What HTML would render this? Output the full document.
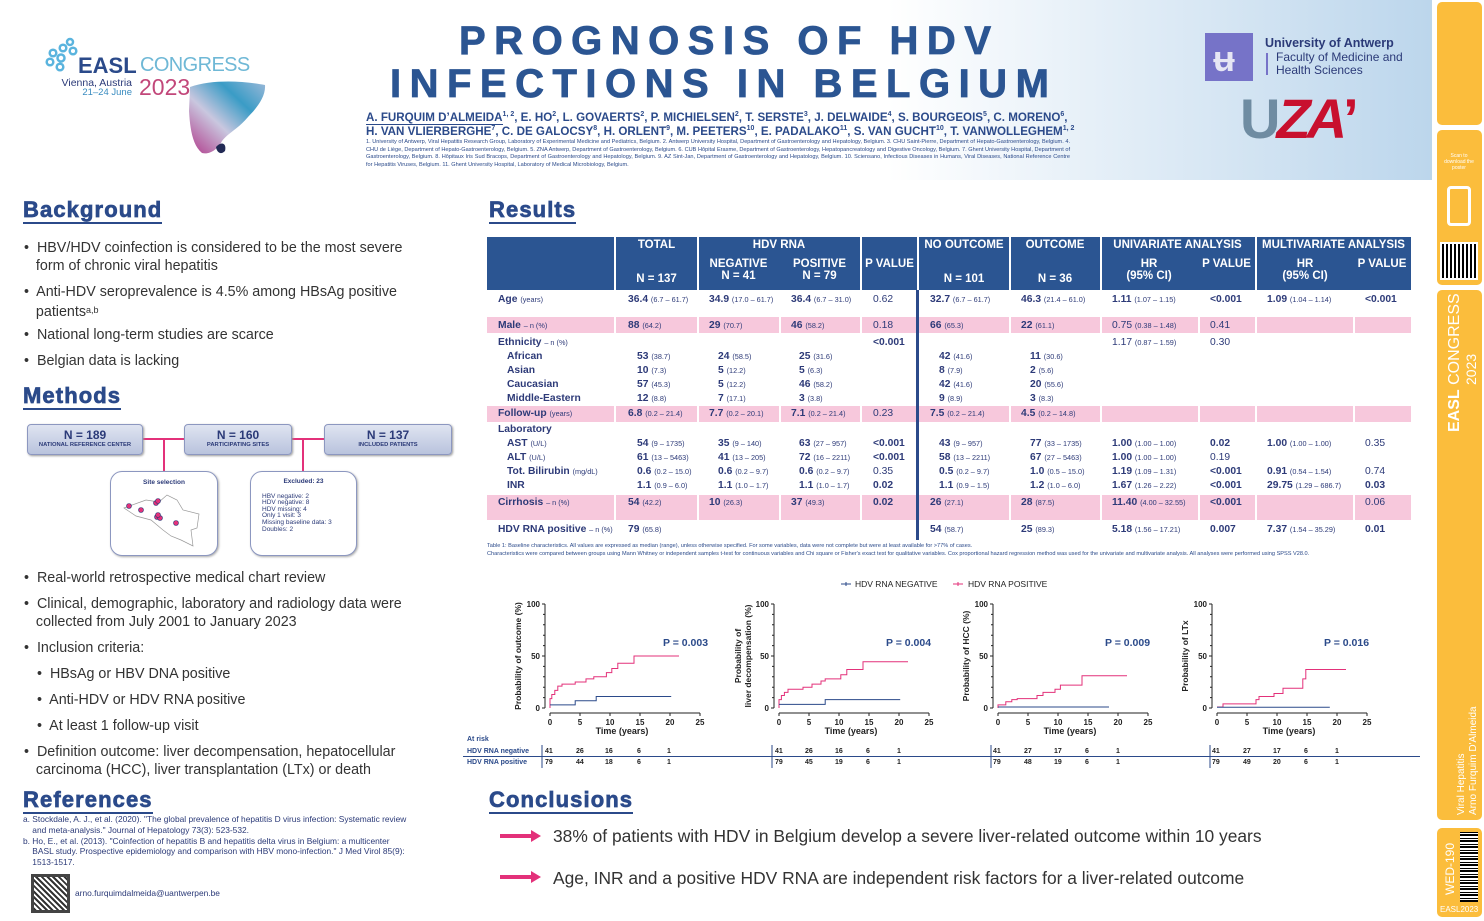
<!DOCTYPE html>
<html><head><meta charset="utf-8">
<style>
*{margin:0;padding:0;box-sizing:border-box}
body{width:1484px;height:921px;position:relative;overflow:hidden;background:#fff;font-family:"Liberation Sans",Arial,sans-serif}
.a{position:absolute;white-space:nowrap}
.hdr{position:absolute;left:0;top:0;width:1432px;height:180px;background:linear-gradient(90deg,#fff 0%,#fff 62%,#bcd6ec 100%)}
.title{position:absolute;font-weight:bold;color:#2b5592;font-size:40px;letter-spacing:8.5px;white-space:nowrap;-webkit-text-stroke:0.8px #2b5592}
.auth{font-weight:bold;color:#2b4a8a;font-size:11.6px}
.auth sup{font-size:7px}
.aff{font-size:5.6px;color:#2b4a8a;line-height:7.7px;width:704px;text-align:justify}
.sec{position:absolute;font-weight:bold;font-size:22px;color:#2b4a8a;border-bottom:2.5px solid #2b4a8a;line-height:24px;letter-spacing:1.1px;-webkit-text-stroke:0.7px #2b4a8a}
.b{position:absolute;font-size:14.3px;color:#333;line-height:18px;white-space:nowrap}
.side{position:absolute;left:1437px;width:45px;background:#fbbd3c;border-radius:5px}
.th{position:absolute;color:#fff;font-weight:bold;font-size:11.5px;text-align:center;white-space:nowrap}
.t{position:absolute;font-weight:bold;font-size:10.3px;color:#2d3a78;white-space:nowrap;line-height:13px}
.t small{font-weight:normal;font-size:7.3px}
.t.n{font-weight:normal}
.pk{position:absolute;background:#f7c8dc}
.box{position:absolute;border:1px solid #8c97c0;border-radius:4px;background:linear-gradient(#dfe4f1,#b9c3dd);box-shadow:1px 1px 2px #999;text-align:center;color:#2b3a78;font-weight:bold}
.rb{position:absolute;border:1px solid #8c97c0;border-radius:12px;background:#fff;box-shadow:1px 1px 2px #aaa;color:#2b3a78;font-size:6.5px}
.rot{position:absolute;transform:rotate(-90deg);transform-origin:left top;white-space:nowrap;color:#fff}
</style></head><body>
<div class="hdr"></div>

<!-- EASL logo -->
<svg class="a" style="left:40px;top:35px" width="230" height="125" viewBox="0 0 230 125">
<g fill="none" stroke="#5ab4de" stroke-width="2.5">
<circle cx="30" cy="7" r="3"/><circle cx="23" cy="13" r="3.3"/><circle cx="33" cy="16" r="3.3"/>
<circle cx="13" cy="18" r="3.3"/><circle cx="21" cy="23" r="3.5"/><circle cx="10" cy="27" r="3.3"/><circle cx="20" cy="32" r="3.3"/>
</g>
<defs><linearGradient id="lv" x1="0" y1="1" x2="1" y2="0"><stop offset="0" stop-color="#b03a8a"/><stop offset="0.4" stop-color="#c9c7df"/><stop offset="0.7" stop-color="#3a9cc6"/><stop offset="1" stop-color="#9ab8d8"/></linearGradient></defs>
<path d="M150 52 C172 44 205 46 225 50 C226 62 216 74 208 82 C198 94 188 98 182 106 C178 114 170 120 162 118 C152 110 150 92 149 76 Z" fill="url(#lv)"/>
<path d="M176 112 C181 106 187 108 185 116 C181 120 177 118 176 112Z" fill="#222a55"/>
</svg>
<div class="a" style="left:78px;top:53px;font-size:22px;font-weight:bold;color:#2b4a8a">EASL</div>
<div class="a" style="left:140px;top:54px;font-size:20px;color:#6fb8d6;letter-spacing:-0.6px">CONGRESS</div>
<div class="a" style="left:30px;width:102px;text-align:right;top:77px;font-size:10.5px;color:#2b3a78">Vienna, Austria</div>
<div class="a" style="left:30px;width:102px;text-align:right;top:87px;font-size:9.5px;color:#3a8cc0">21–24 June</div>
<div class="a" style="left:139px;top:74px;font-size:23px;color:#c2477a">2023</div>

<div class="title" style="left:459px;top:19px">PROGNOSIS OF HDV</div>
<div class="title" style="left:390px;top:62px">INFECTIONS IN BELGIUM</div>
<div class="a auth" style="left:366px;top:111px"><span style="border-bottom:1px solid #2b4a8a">A. FURQUIM D’ALMEIDA</span><sup>1, 2</sup>, E. HO<sup>2</sup>, L. GOVAERTS<sup>2</sup>, P. MICHIELSEN<sup>2</sup>, T. SERSTE<sup>3</sup>, J. DELWAIDE<sup>4</sup>, S. BOURGEOIS<sup>5</sup>, C. MORENO<sup>6</sup>,</div>
<div class="a auth" style="left:366px;top:125px">H. VAN VLIERBERGHE<sup>7</sup>, C. DE GALOCSY<sup>8</sup>, H. ORLENT<sup>9</sup>, M. PEETERS<sup>10</sup>, E. PADALAKO<sup>11</sup>, S. VAN GUCHT<sup>10</sup>, T. VANWOLLEGHEM<sup>1, 2</sup></div>
<div class="a aff" style="left:366px;top:139px;white-space:normal">1. University of Antwerp, Viral Hepatitis Research Group, Laboratory of Experimental Medicine and Pediatrics, Belgium. 2. Antwerp University Hospital, Department of Gastroenterology and Hepatology, Belgium. 3. CHU Saint-Pierre, Department of Hepato-Gastroenterology, Belgium. 4. CHU de Liège, Department of Hepato-Gastroenterology, Belgium. 5. ZNA Antwerp, Department of Gastroenterology, Belgium. 6. CUB Hôpital Erasme, Department of Gastroenterology, Hepatopancreatology and Digestive Oncology, Belgium. 7. Ghent University Hospital, Department of Gastroenterology, Belgium. 8. Hôpitaux Iris Sud Bracops, Department of Gastroenterology and Hepatology, Belgium. 9. AZ Sint-Jan, Department of Gastroenterology and Hepatology, Belgium. 10. Sciensano, Infectious Diseases in Humans, Viral Diseases, National Reference Centre for Hepatitis Viruses, Belgium. 11. Ghent University Hospital, Laboratory of Medical Microbiology, Belgium.</div>

<!-- right logos -->
<div class="a" style="left:1205px;top:33px;width:48px;height:48px;background:#7673c8"></div>
<div class="a" style="left:1213px;top:38px;font-size:36px;font-weight:bold;color:#e6e6f4">ʉ</div>
<div class="a" style="left:1265px;top:36px;font-size:12.5px;font-weight:bold;color:#2b3a78">University of Antwerp</div>
<div class="a" style="left:1266px;top:53px;width:2px;height:22px;background:#7673c8"></div>
<div class="a" style="left:1276px;top:51px;font-size:12px;color:#2b3a78;line-height:13px">Faculty of Medicine and<br>Health Sciences</div>
<div class="a" style="left:1240px;top:88px;font-size:56px;font-weight:bold;letter-spacing:-4px;line-height:62px"><span style="color:#6f8ca2">U</span><span style="color:#c8102e;font-style:italic">ZA</span><span style="color:#c8102e">ʼ</span></div>

<!-- sidebar -->
<div class="side" style="top:2px;height:123px"></div>
<div class="side" style="top:130px;height:155px"></div>
<div class="a" style="left:1447px;top:186px;width:24px;height:40px;border:3px solid #fff;border-radius:4px"></div>
<div class="a" style="left:1440px;top:242px;width:38px;height:38px;background:repeating-linear-gradient(90deg,#000 0 2px,#fff 2px 4px),#000;border:2px solid #fff"></div>
<div class="a" style="left:1441px;top:153px;width:36px;font-size:5px;color:#fff;text-align:center;white-space:normal">Scan to download the poster</div>
<div class="side" style="top:290px;height:530px"></div>
<div class="rot" style="left:1446px;top:432px;font-size:16px"><span style="font-weight:bold">EASL</span> CONGRESS</div>
<div class="rot" style="left:1463px;top:385px;font-size:14px">2023</div>
<div class="rot" style="left:1456px;top:815px;font-size:10px">Viral Hepatitis</div>
<div class="rot" style="left:1468px;top:815px;font-size:10px">Arno Furquim D'Almeida</div>
<div class="side" style="top:828px;height:89px"></div>
<div class="rot" style="left:1443px;top:895px;font-size:12px">WED-190</div>
<div class="a" style="left:1460px;top:832px;width:18px;height:70px;background:repeating-linear-gradient(0deg,#000 0 2px,#fff 2px 3px,#000 3px 4px,#fff 4px 6px)"></div>
<div class="a" style="left:1440px;top:905px;font-size:8px;color:#fff">EASL2023</div>

<!-- LEFT COLUMN -->
<div class="sec" style="left:23px;top:198px">Background</div>
<div class="b" style="left:24px;top:239px">•&nbsp; HBV/HDV coinfection is considered to be the most severe<br>&nbsp;&nbsp;&nbsp;form of chronic viral hepatitis</div>
<div class="b" style="left:24px;top:283px">•&nbsp; Anti-HDV seroprevalence is 4.5% among HBsAg positive<br>&nbsp;&nbsp;&nbsp;patients<span style="font-size:9px;vertical-align:3px">a,b</span></div>
<div class="b" style="left:24px;top:326px">•&nbsp; National long-term studies are scarce</div>
<div class="b" style="left:24px;top:352px">•&nbsp; Belgian data is lacking</div>
<div class="sec" style="left:23px;top:384px">Methods</div>

<!-- flow diagram -->
<div class="a" style="left:142px;top:438px;width:42px;height:2px;background:#e3317a"></div>
<div class="a" style="left:291px;top:438px;width:33px;height:2px;background:#e3317a"></div>
<div class="a" style="left:163px;top:439px;width:2px;height:32px;background:#e3317a"></div>
<div class="a" style="left:302px;top:439px;width:2px;height:32px;background:#e3317a"></div>
<div class="box" style="left:27px;top:424px;width:116px;height:31px"><div style="font-size:12px;margin-top:3px">N = 189</div><div style="font-size:5.8px">NATIONAL REFERENCE CENTER</div></div>
<div class="box" style="left:184px;top:424px;width:108px;height:31px"><div style="font-size:12px;margin-top:3px">N = 160</div><div style="font-size:5.8px">PARTICIPATING SITES</div></div>
<div class="box" style="left:324px;top:424px;width:128px;height:31px"><div style="font-size:12px;margin-top:3px">N = 137</div><div style="font-size:5.8px">INCLUDED PATIENTS</div></div>
<div class="rb" style="left:110px;top:471px;width:108px;height:85px"><div style="text-align:center;font-weight:bold;margin-top:7px">Site selection</div>
<svg width="80" height="60" style="position:absolute;left:10px;top:18px" viewBox="0 0 80 60"><path d="M3 18 L25 10 L38 12 L46 5 L56 10 L62 20 L78 24 L76 38 L70 40 L72 56 L60 50 L50 46 L42 40 L30 30 L15 26 Z" fill="#fff" stroke="#999" stroke-width="0.7"/>
<g fill="#e3317a" stroke="#2b3a78" stroke-width="0.6"><circle cx="8" cy="16" r="2.5"/><circle cx="20" cy="20" r="2.5"/><circle cx="35" cy="13" r="2.5"/><circle cx="37" cy="11" r="2.5"/><circle cx="36" cy="27" r="2.5"/><circle cx="39" cy="28" r="2.5"/><circle cx="37" cy="25" r="2.5"/><circle cx="55" cy="33" r="2.5"/></g></svg></div>
<div class="rb" style="left:250px;top:471px;width:107px;height:85px;line-height:6.6px"><div style="text-align:center;font-weight:bold;margin-top:7px">Excluded: 23</div>
<div style="margin:8px 0 0 11px">HBV negative: 2<br>HDV negative: 8<br>HDV missing: 4<br>Only 1 visit: 3<br>Missing baseline data: 3<br>Doubles: 2</div></div>

<div class="b" style="left:24px;top:569px">•&nbsp; Real-world retrospective medical chart review</div>
<div class="b" style="left:24px;top:595px">•&nbsp; Clinical, demographic, laboratory and radiology data were<br>&nbsp;&nbsp;&nbsp;collected from July 2001 to January 2023</div>
<div class="b" style="left:24px;top:639px">•&nbsp; Inclusion criteria:</div>
<div class="b" style="left:37px;top:665px">•&nbsp; HBsAg or HBV DNA positive</div>
<div class="b" style="left:37px;top:691px">•&nbsp; Anti-HDV or HDV RNA positive</div>
<div class="b" style="left:37px;top:717px">•&nbsp; At least 1 follow-up visit</div>
<div class="b" style="left:24px;top:743px">•&nbsp; Definition outcome: liver decompensation, hepatocellular<br>&nbsp;&nbsp;&nbsp;carcinoma (HCC), liver transplantation (LTx) or death</div>
<div class="sec" style="left:23px;top:788px">References</div>
<div class="a" style="left:23px;top:814px;font-size:8.4px;color:#2b3a78;line-height:10.8px;white-space:nowrap">a. Stockdale, A. J., et al. (2020). "The global prevalence of hepatitis D virus infection: Systematic review<br>&nbsp;&nbsp;&nbsp;&nbsp;and meta-analysis." Journal of Hepatology 73(3): 523-532.<br>b. Ho, E., et al. (2013). "Coinfection of hepatitis B and hepatitis delta virus in Belgium: a multicenter<br>&nbsp;&nbsp;&nbsp;&nbsp;BASL study. Prospective epidemiology and comparison with HBV mono-infection." J Med Virol 85(9):<br>&nbsp;&nbsp;&nbsp;&nbsp;1513-1517.</div>
<div class="a" style="left:31px;top:874px;width:39px;height:39px;background:repeating-linear-gradient(45deg,#333 0 2px,#fff 2px 4px),#333;border:3px solid #444"></div>
<div class="a" style="left:75px;top:888px;font-size:8.4px;color:#2b3a78">arno.furquimdalmeida@uantwerpen.be</div>

<!-- RESULTS -->
<div class="sec" style="left:489px;top:198px">Results</div>
<div class="a" style="left:487px;top:237px;width:924px;height:53px;background:#2b5592"></div>
<div class="a" style="left:614px;top:237px;width:2px;height:53px;background:#fff"></div>
<div class="a" style="left:697px;top:237px;width:2px;height:53px;background:#fff"></div>
<div class="a" style="left:860px;top:237px;width:2px;height:53px;background:#fff"></div>
<div class="a" style="left:917px;top:237px;width:2px;height:53px;background:#fff"></div>
<div class="a" style="left:1009px;top:237px;width:2px;height:53px;background:#fff"></div>
<div class="a" style="left:1100px;top:237px;width:2px;height:53px;background:#fff"></div>
<div class="a" style="left:1255px;top:237px;width:2px;height:53px;background:#fff"></div>
<div class="th" style="left:615px;width:83px;top:239px">TOTAL</div>
<div class="th" style="left:615px;width:83px;top:273px">N = 137</div>
<div class="th" style="left:698px;width:162px;top:239px">HDV RNA</div>
<div class="th" style="left:698px;width:81px;top:258px">NEGATIVE<br>N = 41</div>
<div class="th" style="left:779px;width:81px;top:258px">POSITIVE<br>N = 79</div>
<div class="th" style="left:861px;width:57px;top:258px">P VALUE</div>
<div class="th" style="left:918px;width:92px;top:239px">NO OUTCOME</div>
<div class="th" style="left:918px;width:92px;top:273px">N = 101</div>
<div class="th" style="left:1010px;width:90px;top:239px">OUTCOME</div>
<div class="th" style="left:1010px;width:90px;top:273px">N = 36</div>
<div class="th" style="left:1100px;width:155px;top:239px">UNIVARIATE ANALYSIS</div>
<div class="th" style="left:1100px;width:98px;top:258px">HR<br>(95% CI)</div>
<div class="th" style="left:1198px;width:57px;top:258px">P VALUE</div>
<div class="th" style="left:1256px;width:155px;top:239px">MULTIVARIATE ANALYSIS</div>
<div class="th" style="left:1256px;width:98px;top:258px">HR<br>(95% CI)</div>
<div class="th" style="left:1353px;width:58px;top:258px">P VALUE</div>

<div class="pk" style="left:487px;top:317px;width:924px;height:16px"></div>
<div class="pk" style="left:487px;top:406px;width:924px;height:16px"></div>
<div class="pk" style="left:487px;top:495px;width:924px;height:25px"></div>
<div class="a" style="left:614px;top:290px;width:2px;height:250px;background:#fff"></div>
<div class="a" style="left:697px;top:290px;width:2px;height:250px;background:#fff"></div>
<div class="a" style="left:779px;top:290px;width:2px;height:250px;background:#fff"></div>
<div class="a" style="left:860px;top:290px;width:2px;height:250px;background:#fff"></div>
<div class="a" style="left:1009px;top:290px;width:2px;height:250px;background:#fff"></div>
<div class="a" style="left:1100px;top:290px;width:2px;height:250px;background:#fff"></div>
<div class="a" style="left:1198px;top:290px;width:2px;height:250px;background:#fff"></div>
<div class="a" style="left:1255px;top:290px;width:2px;height:250px;background:#fff"></div>
<div class="a" style="left:1353px;top:290px;width:2px;height:250px;background:#fff"></div>
<div class="a" style="left:916px;top:290px;width:3px;height:250px;background:#2b4a8a"></div>

<!-- Age -->
<div class="t" style="left:498px;top:293px">Age <small>(years)</small></div>
<div class="t" style="left:628px;top:293px">36.4 <small>(6.7 – 61.7)</small></div>
<div class="t" style="left:709px;top:293px">34.9 <small>(17.0 – 61.7)</small></div>
<div class="t" style="left:791px;top:293px">36.4 <small>(6.7 – 31.0)</small></div>
<div class="t n" style="left:873px;top:293px">0.62</div>
<div class="t" style="left:930px;top:293px">32.7 <small>(6.7 – 61.7)</small></div>
<div class="t" style="left:1021px;top:293px">46.3 <small>(21.4 – 61.0)</small></div>
<div class="t" style="left:1112px;top:293px">1.11 <small>(1.07 – 1.15)</small></div>
<div class="t" style="left:1210px;top:293px">&lt;0.001</div>
<div class="t" style="left:1267px;top:293px">1.09 <small>(1.04 – 1.14)</small></div>
<div class="t" style="left:1365px;top:293px">&lt;0.001</div>
<!-- Male -->
<div class="t" style="left:498px;top:319px">Male <small>– n (%)</small></div>
<div class="t" style="left:628px;top:319px">88 <small>(64.2)</small></div>
<div class="t" style="left:709px;top:319px">29 <small>(70.7)</small></div>
<div class="t" style="left:791px;top:319px">46 <small>(58.2)</small></div>
<div class="t n" style="left:873px;top:319px">0.18</div>
<div class="t" style="left:930px;top:319px">66 <small>(65.3)</small></div>
<div class="t" style="left:1021px;top:319px">22 <small>(61.1)</small></div>
<div class="t n" style="left:1112px;top:319px">0.75 <small>(0.38 – 1.48)</small></div>
<div class="t n" style="left:1210px;top:319px">0.41</div>
<!-- Ethnicity -->
<div class="t" style="left:498px;top:336px">Ethnicity <small>– n (%)</small></div>
<div class="t" style="left:873px;top:336px">&lt;0.001</div>
<div class="t n" style="left:1112px;top:336px">1.17 <small>(0.87 – 1.59)</small></div>
<div class="t n" style="left:1210px;top:336px">0.30</div>
<div class="t" style="left:507px;top:350px;line-height:14px">African<br>Asian<br>Caucasian<br>Middle-Eastern</div>
<div class="t" style="left:637px;top:350px;line-height:14px">53 <small>(38.7)</small><br>10 <small>(7.3)</small><br>57 <small>(45.3)</small><br>12 <small>(8.8)</small></div>
<div class="t" style="left:718px;top:350px;line-height:14px">24 <small>(58.5)</small><br>5 <small>(12.2)</small><br>5 <small>(12.2)</small><br>7 <small>(17.1)</small></div>
<div class="t" style="left:799px;top:350px;line-height:14px">25 <small>(31.6)</small><br>5 <small>(6.3)</small><br>46 <small>(58.2)</small><br>3 <small>(3.8)</small></div>
<div class="t" style="left:939px;top:350px;line-height:14px">42 <small>(41.6)</small><br>8 <small>(7.9)</small><br>42 <small>(41.6)</small><br>9 <small>(8.9)</small></div>
<div class="t" style="left:1030px;top:350px;line-height:14px">11 <small>(30.6)</small><br>2 <small>(5.6)</small><br>20 <small>(55.6)</small><br>3 <small>(8.3)</small></div>
<!-- Follow -->
<div class="t" style="left:498px;top:407px">Follow-up <small>(years)</small></div>
<div class="t" style="left:628px;top:407px">6.8 <small>(0.2 – 21.4)</small></div>
<div class="t" style="left:709px;top:407px">7.7 <small>(0.2 – 20.1)</small></div>
<div class="t" style="left:791px;top:407px">7.1 <small>(0.2 – 21.4)</small></div>
<div class="t n" style="left:873px;top:407px">0.23</div>
<div class="t" style="left:930px;top:407px">7.5 <small>(0.2 – 21.4)</small></div>
<div class="t" style="left:1021px;top:407px">4.5 <small>(0.2 – 14.8)</small></div>
<!-- Lab -->
<div class="t" style="left:498px;top:423px">Laboratory</div>
<div class="t" style="left:507px;top:437px;line-height:14px">AST <small>(U/L)</small><br>ALT <small>(U/L)</small><br>Tot. Bilirubin <small>(mg/dL)</small><br>INR</div>
<div class="t" style="left:637px;top:437px;line-height:14px">54 <small>(9 – 1735)</small><br>61 <small>(13 – 5463)</small><br>0.6 <small>(0.2 – 15.0)</small><br>1.1 <small>(0.9 – 6.0)</small></div>
<div class="t" style="left:718px;top:437px;line-height:14px">35 <small>(9 – 140)</small><br>41 <small>(13 – 205)</small><br>0.6 <small>(0.2 – 9.7)</small><br>1.1 <small>(1.0 – 1.7)</small></div>
<div class="t" style="left:799px;top:437px;line-height:14px">63 <small>(27 – 957)</small><br>72 <small>(16 – 2211)</small><br>0.6 <small>(0.2 – 9.7)</small><br>1.1 <small>(1.0 – 1.7)</small></div>
<div class="t" style="left:873px;top:437px;line-height:14px">&lt;0.001<br>&lt;0.001<br><span style="font-weight:normal">0.35</span><br>0.02</div>
<div class="t" style="left:939px;top:437px;line-height:14px">43 <small>(9 – 957)</small><br>58 <small>(13 – 2211)</small><br>0.5 <small>(0.2 – 9.7)</small><br>1.1 <small>(0.9 – 1.5)</small></div>
<div class="t" style="left:1030px;top:437px;line-height:14px">77 <small>(33 – 1735)</small><br>67 <small>(27 – 5463)</small><br>1.0 <small>(0.5 – 15.0)</small><br>1.2 <small>(1.0 – 6.0)</small></div>
<div class="t" style="left:1112px;top:437px;line-height:14px">1.00 <small>(1.00 – 1.00)</small><br>1.00 <small>(1.00 – 1.00)</small><br>1.19 <small>(1.09 – 1.31)</small><br>1.67 <small>(1.26 – 2.22)</small></div>
<div class="t" style="left:1210px;top:437px;line-height:14px">0.02<br><span style="font-weight:normal">0.19</span><br>&lt;0.001<br>&lt;0.001</div>
<div class="t" style="left:1267px;top:437px;line-height:14px">1.00 <small>(1.00 – 1.00)</small><br><br>0.91 <small>(0.54 – 1.54)</small><br>29.75 <small>(1.29 – 686.7)</small></div>
<div class="t" style="left:1365px;top:437px;line-height:14px"><span style="font-weight:normal">0.35</span><br><br><span style="font-weight:normal">0.74</span><br>0.03</div>
<!-- Cirrhosis -->
<div class="t" style="left:498px;top:496px">Cirrhosis <small>– n (%)</small></div>
<div class="t" style="left:628px;top:496px">54 <small>(42.2)</small></div>
<div class="t" style="left:709px;top:496px">10 <small>(26.3)</small></div>
<div class="t" style="left:791px;top:496px">37 <small>(49.3)</small></div>
<div class="t" style="left:873px;top:496px">0.02</div>
<div class="t" style="left:930px;top:496px">26 <small>(27.1)</small></div>
<div class="t" style="left:1021px;top:496px">28 <small>(87.5)</small></div>
<div class="t" style="left:1112px;top:496px">11.40 <small>(4.00 – 32.55)</small></div>
<div class="t" style="left:1210px;top:496px">&lt;0.001</div>
<div class="t n" style="left:1365px;top:496px">0.06</div>
<!-- HDV -->
<div class="t" style="left:498px;top:523px">HDV RNA positive <small>– n (%)</small></div>
<div class="t" style="left:628px;top:523px">79 <small>(65.8)</small></div>
<div class="t" style="left:930px;top:523px">54 <small>(58.7)</small></div>
<div class="t" style="left:1021px;top:523px">25 <small>(89.3)</small></div>
<div class="t" style="left:1112px;top:523px">5.18 <small>(1.56 – 17.21)</small></div>
<div class="t" style="left:1210px;top:523px">0.007</div>
<div class="t" style="left:1267px;top:523px">7.37 <small>(1.54 – 35.29)</small></div>
<div class="t" style="left:1365px;top:523px">0.01</div>

<div class="a" style="left:487px;top:543px;font-size:5.6px;color:#2b4a8a;line-height:7.5px;white-space:normal;width:925px">Table 1: Baseline characteristics. All values are expressed as median (range), unless otherwise specified. For some variables, data were not complete but were at least available for &gt;77% of cases.<br>Characteristics were compared between groups using Mann Whitney or independent samples t-test for continuous variables and Chi square or Fisher's exact test for qualitative variables. Cox proportional hazard regression method was used for the univariate and multivariate analysis. All analyses were performed using SPSS V28.0.</div>

<!-- KM plots -->
<svg class="a" style="left:0;top:0" width="1484" height="921">
<g font-family="Liberation Sans, Arial, sans-serif" font-size="8.5" fill="#222">
<line x1="841" y1="584" x2="851" y2="584" stroke="#2b4a8a"/><line x1="846" y1="582" x2="846" y2="586" stroke="#2b4a8a"/>
<text x="855" y="587">HDV RNA NEGATIVE</text>
<line x1="953" y1="584" x2="963" y2="584" stroke="#e3317a"/><line x1="958" y1="582" x2="958" y2="586" stroke="#e3317a"/>
<text x="968" y="587">HDV RNA POSITIVE</text>
</g>
<g font-family="Liberation Sans, Arial, sans-serif" font-weight="bold" font-size="8" fill="#222" stroke-width="1">
<g transform="translate(550,708)">
<path d="M-5 -104V0M-5 0h-3M-5 -52h-3M-5 -104h-3M-5 -10.4h-2M-5 -20.8h-2M-5 -31.2h-2M-5 -41.6h-2M-5 -62.4h-2M-5 -72.8h-2M-5 -83.2h-2M-5 -93.6h-2M0 5H150M0 5v3M30 5v3M60 5v3M90 5v3M120 5v3M150 5v3" stroke="#222" fill="none"/>
<text x="-10" y="3" text-anchor="end">0</text><text x="-10" y="-49" text-anchor="end">50</text><text x="-10" y="-101" text-anchor="end">100</text>
<g text-anchor="middle"><text x="0" y="17">0</text><text x="30" y="17">5</text><text x="60" y="17">10</text><text x="90" y="17">15</text><text x="120" y="17">20</text><text x="150" y="17">25</text><text x="72" y="26" font-size="9">Time (years)</text></g>
<text transform="translate(-29,-52) rotate(-90)" text-anchor="middle" font-size="8.5">Probability of outcome (%)</text>
<text x="113" y="-62" font-size="10.5" fill="#2b4a8a">P =  0.003</text>
<g transform="scale(6,-1.04)" fill="none">
<path d="M0 0 V9 H0.3 V13 H0.8 V17 H1.3 V21 H2 V23 H4.2 V25 H6 V28 H7.3 V30 H9.4 V34 H10.3 V38 H11.3 V43 H14 V50 H21.5" stroke="#e3317a" stroke-width="1" vector-effect="non-scaling-stroke"/>
<path d="M0 3 H4.2 V7 H7.7 V11 H20.2" stroke="#2b4a8a" stroke-width="1" vector-effect="non-scaling-stroke"/>
</g></g>
<g transform="translate(779,708)">
<path d="M-5 -104V0M-5 0h-3M-5 -52h-3M-5 -104h-3M-5 -10.4h-2M-5 -20.8h-2M-5 -31.2h-2M-5 -41.6h-2M-5 -62.4h-2M-5 -72.8h-2M-5 -83.2h-2M-5 -93.6h-2M0 5H150M0 5v3M30 5v3M60 5v3M90 5v3M120 5v3M150 5v3" stroke="#222" fill="none"/>
<text x="-10" y="3" text-anchor="end">0</text><text x="-10" y="-49" text-anchor="end">50</text><text x="-10" y="-101" text-anchor="end">100</text>
<g text-anchor="middle"><text x="0" y="17">0</text><text x="30" y="17">5</text><text x="60" y="17">10</text><text x="90" y="17">15</text><text x="120" y="17">20</text><text x="150" y="17">25</text><text x="72" y="26" font-size="9">Time (years)</text></g>
<text transform="translate(-38,-52) rotate(-90)" text-anchor="middle" font-size="8.5">Probability of</text>
<text transform="translate(-28,-52) rotate(-90)" text-anchor="middle" font-size="8.5">liver decompensation (%)</text>
<text x="107" y="-62" font-size="10.5" fill="#2b4a8a">P =  0.004</text>
<g transform="scale(6,-1.04)" fill="none">
<path d="M0 0 V8 H0.4 V12 H0.9 V15 H1.5 V18 H4 V20 H5.5 V23 H7 V26 H7.7 V28 H10.3 V32 H11.3 V37 H14 V44.5 H21.5" stroke="#e3317a" stroke-width="1" vector-effect="non-scaling-stroke"/>
<path d="M0 3.5 H7.7 V8 H20.2" stroke="#2b4a8a" stroke-width="1" vector-effect="non-scaling-stroke"/>
</g></g>
<g transform="translate(998,708)">
<path d="M-5 -104V0M-5 0h-3M-5 -52h-3M-5 -104h-3M-5 -10.4h-2M-5 -20.8h-2M-5 -31.2h-2M-5 -41.6h-2M-5 -62.4h-2M-5 -72.8h-2M-5 -83.2h-2M-5 -93.6h-2M0 5H150M0 5v3M30 5v3M60 5v3M90 5v3M120 5v3M150 5v3" stroke="#222" fill="none"/>
<text x="-10" y="3" text-anchor="end">0</text><text x="-10" y="-49" text-anchor="end">50</text><text x="-10" y="-101" text-anchor="end">100</text>
<g text-anchor="middle"><text x="0" y="17">0</text><text x="30" y="17">5</text><text x="60" y="17">10</text><text x="90" y="17">15</text><text x="120" y="17">20</text><text x="150" y="17">25</text><text x="72" y="26" font-size="9">Time (years)</text></g>
<text transform="translate(-29,-52) rotate(-90)" text-anchor="middle" font-size="8.5">Probability of HCC (%)</text>
<text x="107" y="-62" font-size="10.5" fill="#2b4a8a">P =  0.009</text>
<g transform="scale(6,-1.04)" fill="none">
<path d="M0 0 V3 H1.3 V6 H2.3 V8 H3.2 V9 H6.5 V12 H7.5 V15 H9.5 V18 H10.4 V22 H14 V31 H21.5" stroke="#e3317a" stroke-width="1" vector-effect="non-scaling-stroke"/>
<path d="M0 1 H18.5" stroke="#2b4a8a" stroke-width="1" vector-effect="non-scaling-stroke"/>
</g></g>
<g transform="translate(1217,708)">
<path d="M-5 -104V0M-5 0h-3M-5 -52h-3M-5 -104h-3M-5 -10.4h-2M-5 -20.8h-2M-5 -31.2h-2M-5 -41.6h-2M-5 -62.4h-2M-5 -72.8h-2M-5 -83.2h-2M-5 -93.6h-2M0 5H150M0 5v3M30 5v3M60 5v3M90 5v3M120 5v3M150 5v3" stroke="#222" fill="none"/>
<text x="-10" y="3" text-anchor="end">0</text><text x="-10" y="-49" text-anchor="end">50</text><text x="-10" y="-101" text-anchor="end">100</text>
<g text-anchor="middle"><text x="0" y="17">0</text><text x="30" y="17">5</text><text x="60" y="17">10</text><text x="90" y="17">15</text><text x="120" y="17">20</text><text x="150" y="17">25</text><text x="72" y="26" font-size="9">Time (years)</text></g>
<text transform="translate(-29,-52) rotate(-90)" text-anchor="middle" font-size="8.5">Probability of LTx</text>
<text x="107" y="-62" font-size="10.5" fill="#2b4a8a">P =  0.016</text>
<g transform="scale(6,-1.04)" fill="none">
<path d="M0 1 H1 V4 H6.5 V8 H7 V11 H9.5 V14 H11 V19 H14.3 V28 H14.8 V37 H21.5" stroke="#e3317a" stroke-width="1" vector-effect="non-scaling-stroke"/>
<path d="M0 0.7 H18.8" stroke="#2b4a8a" stroke-width="1" vector-effect="non-scaling-stroke"/>
</g></g>
</g>
<g font-family="Liberation Sans, Arial, sans-serif" font-weight="bold" font-size="7">
<text x="467" y="741" fill="#2b4a8a">At risk</text>
<text x="467" y="753" fill="#2b4a8a">HDV RNA negative</text>
<text x="467" y="764" fill="#2b4a8a">HDV RNA positive</text>
<line x1="463" y1="756.5" x2="1420" y2="756.5" stroke="#2b4a8a" stroke-width="1"/>
<g stroke="#2b4a8a"><line x1="542" y1="745" x2="542" y2="768"/><line x1="772" y1="745" x2="772" y2="768"/><line x1="991" y1="745" x2="991" y2="768"/><line x1="1210" y1="745" x2="1210" y2="768"/></g>
<g fill="#222">
<text x="545" y="753">41</text><text x="576" y="753">26</text><text x="605" y="753">16</text><text x="637" y="753">6</text><text x="667" y="753">1</text>
<text x="545" y="764">79</text><text x="576" y="764">44</text><text x="605" y="764">18</text><text x="637" y="764">6</text><text x="667" y="764">1</text>
<text x="775" y="753">41</text><text x="805" y="753">26</text><text x="835" y="753">16</text><text x="866" y="753">6</text><text x="897" y="753">1</text>
<text x="775" y="764">79</text><text x="805" y="764">45</text><text x="835" y="764">19</text><text x="866" y="764">6</text><text x="897" y="764">1</text>
<text x="993" y="753">41</text><text x="1024" y="753">27</text><text x="1054" y="753">17</text><text x="1085" y="753">6</text><text x="1116" y="753">1</text>
<text x="993" y="764">79</text><text x="1024" y="764">48</text><text x="1054" y="764">19</text><text x="1085" y="764">6</text><text x="1116" y="764">1</text>
<text x="1212" y="753">41</text><text x="1243" y="753">27</text><text x="1273" y="753">17</text><text x="1304" y="753">6</text><text x="1335" y="753">1</text>
<text x="1212" y="764">79</text><text x="1243" y="764">49</text><text x="1273" y="764">20</text><text x="1304" y="764">6</text><text x="1335" y="764">1</text>
</g></g>
<g fill="#e3317a"><path d="M500 834h31v-4l10 6-10 6v-4h-31z"/><path d="M500 875h31v-4l10 6-10 6v-4h-31z"/></g>
</svg>

<div class="sec" style="left:489px;top:788px">Conclusions</div>
<div class="a" style="left:553px;top:826px;font-size:17.4px;color:#333">38% of patients with HDV in Belgium develop a severe liver-related outcome within 10 years</div>
<div class="a" style="left:553px;top:868px;font-size:17.4px;color:#333">Age, INR and a positive HDV RNA are independent risk factors for a liver-related outcome</div>
</body></html>
